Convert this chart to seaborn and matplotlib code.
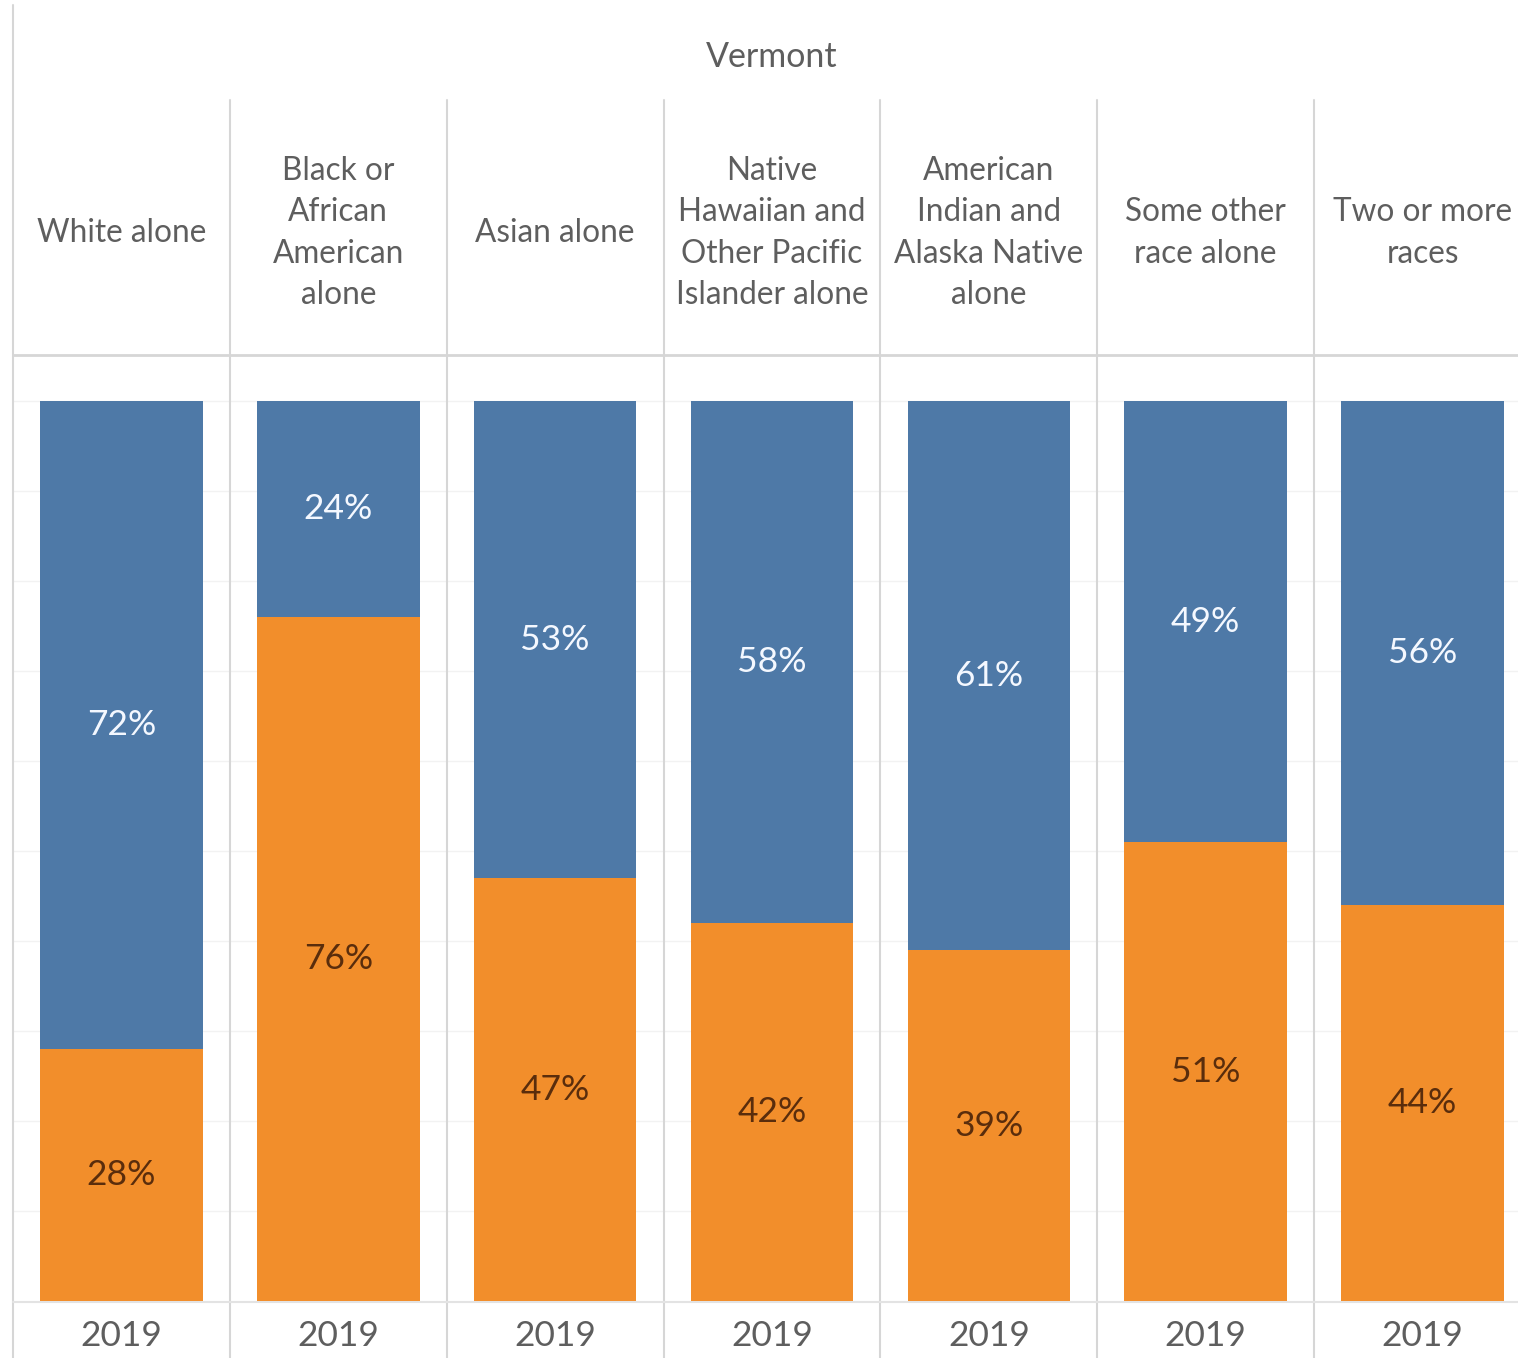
import matplotlib
matplotlib.use("Agg")
import matplotlib.pyplot as plt
import matplotlib.transforms as mtransforms
import seaborn as sns
import pandas as pd

categories = [
    "White alone",
    "Black or\nAfrican\nAmerican\nalone",
    "Asian alone",
    "Native\nHawaiian and\nOther Pacific\nIslander alone",
    "American\nIndian and\nAlaska Native\nalone",
    "Some other\nrace alone",
    "Two or more\nraces",
]
orange_vals = [28, 76, 47, 42, 39, 51, 44]
blue_vals = [72, 24, 53, 58, 61, 49, 56]
year_label = "2019"
state = "Vermont"

BLUE = "#4e79a7"
ORANGE = "#f28e2b"
GRID = "#f2f2f2"
DIV = "#d6d6d6"
TXT = "#5e5e5e"

sns.set_theme(style="white")
plt.rcParams["font.family"] = ["Lato", "DejaVu Sans"]

W, H = 1518, 1358
fig = plt.figure(figsize=(W / 100, H / 100), dpi=100)
fig.patch.set_facecolor("white")

def fx(px):
    return px / W

def fy(py):
    return (H - py) / H

ax_left, ax_right = 13, 1531
ax_top, ax_bot = 355, 1301
ax = fig.add_axes([fx(ax_left), fy(ax_bot), fx(ax_right) - fx(ax_left), fy(ax_top) - fy(ax_bot)])

df = pd.DataFrame({
    "cat": categories,
    "orange": orange_vals,
    "blue": blue_vals,
})
df["total"] = df["orange"] + df["blue"]

sns.barplot(data=df, x="cat", y="total", order=categories, color=BLUE,
            saturation=1, width=0.75, ax=ax, zorder=2, linewidth=0)
sns.barplot(data=df, x="cat", y="orange", order=categories, color=ORANGE,
            saturation=1, width=0.75, ax=ax, zorder=3, linewidth=0)

# scale: 100% at y=401, 0 at 1301 -> 9 px per %
top_val = (ax_bot - ax_top) / 9.0
ax.set_ylim(0, top_val)
ax.set_xlim(-0.5, len(categories) - 0.5)
for y in range(10, 101, 10):
    ax.axhline(y, color=GRID, lw=1, zorder=0)
ax.set_xlabel("")
ax.set_ylabel("")
ax.set_xticks([])
ax.set_yticks([])
for s in ax.spines.values():
    s.set_visible(False)

# segment labels
for i, (o, b) in enumerate(zip(orange_vals, blue_vals)):
    ax.text(i, o / 2, f"{o}%", ha="center", va="center", fontsize=25.5,
            color="#5a2d0c", zorder=5)
    ax.text(i, o + b / 2, f"{b}%", ha="center", va="center", fontsize=25.5,
            color="#f4f8ff", zorder=5)

trans = mtransforms.blended_transform_factory(ax.transData, fig.transFigure)

# header labels and year labels
for i, c in enumerate(categories):
    ax.text(i, fy(233), c, transform=trans, ha="center", va="center",
            fontsize=22.7, color=TXT, linespacing=1.47)
    ax.text(i, fy(1336), year_label, transform=trans, ha="center", va="center",
            fontsize=25.5, color=TXT)

# state title
ax.text(3.0, fy(57), state, transform=trans, ha="center",
        va="center", fontsize=24.5, color=TXT)

# dividers
n = len(categories)
for k in range(n):
    xb = k - 0.5
    ytop = fy(5) if k == 0 else fy(100)
    ax.plot([xb, xb], [ytop, 0], transform=trans, color=DIV, lw=1.5,
            clip_on=False, zorder=1)
# horizontal header line and bottom line
ax.plot([-0.5, n - 0.5], [fy(355), fy(355)], transform=trans, color=DIV, lw=2,
        clip_on=False)
ax.plot([-0.5, n - 0.5], [fy(1302), fy(1302)], transform=trans, color="#e3e3e3",
        lw=1.5, clip_on=False)

fig.savefig("out.png", dpi=100, facecolor="white")
